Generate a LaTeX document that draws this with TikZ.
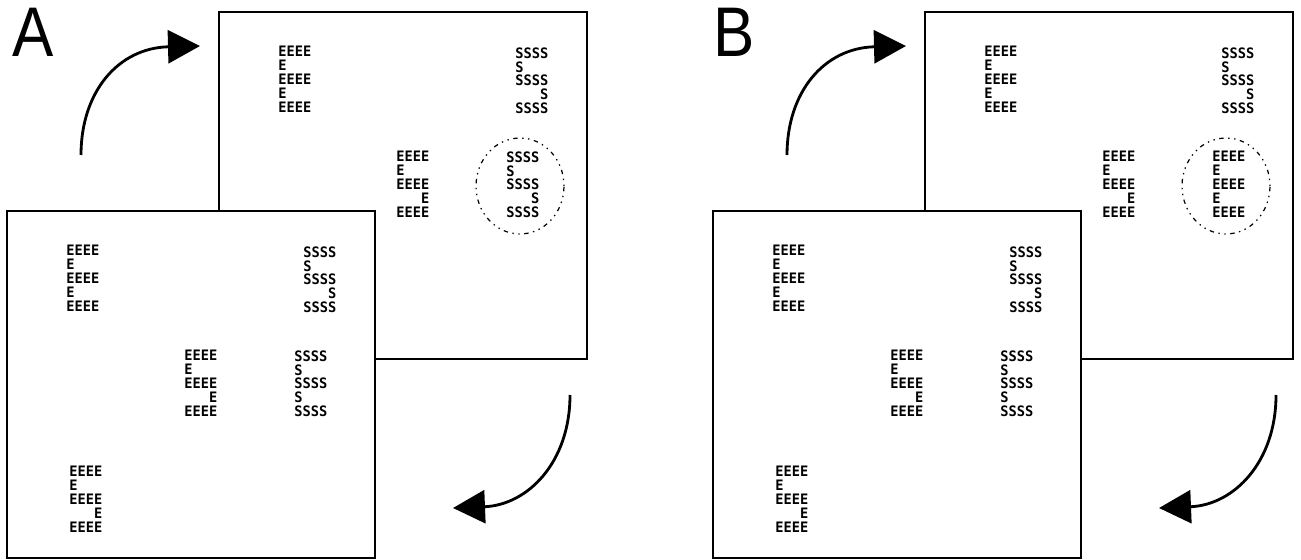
\documentclass[tikz,border=0pt]{standalone}
\usepackage{fontspec}
\usepackage{tikz}
\usetikzlibrary{arrows.meta}

\newfontfamily\pixfont[FakeStretch=0.95]{DejaVu Sans Mono Bold}
\newfontfamily\panelfont[FakeStretch=0.88]{Liberation Sans}
% big letters built from small ones
\newcommand{\compE}[1]{#1#1#1#1\\#1\\#1#1#1#1\\#1\\#1#1#1#1}
\newcommand{\compS}[1]{#1#1#1#1\\#1\\#1#1#1#1\\\phantom{#1#1#1}#1\\#1#1#1#1}

\begin{document}
\begin{tikzpicture}[x=0.02cm,y=-0.02cm,>={Triangle[length=0.64cm,width=0.66cm]},
                    sheet/.style={draw,fill=white,line width=1pt,minimum width=7.36cm,
                                  minimum height=6.94cm,inner sep=0pt,outer sep=0pt,anchor=north west},
                    glyph/.style={font={\pixfont\fontsize{8.2}{7.95}\selectfont},align=left,
                                  inner sep=0pt,anchor=north west},
                    panel label/.style={font={\panelfont\fontsize{40}{40}\selectfont},
                                        inner sep=0pt,anchor=north west},
                    turn/.style={->,line width=1.6pt},
                    focus/.style={line width=0.7pt,dash pattern=on 0.8pt off 2.6pt on 0.8pt off 2.6pt on 2.5pt off 2.6pt}]
  \useasboundingbox (0,0) rectangle (1301,560);

  % panel A
  \node[panel label] (labA) at (12,8) {A};
  \coordinate (upA1) at (81,155);
  \coordinate (upA2) at (200,46);
  \draw[turn] (upA1) .. controls (81,92) and (118,48) .. (upA2);
  \node[sheet] (backA) at (219,12) {};
  \node[glyph] (eeA1) at ([shift={(59,34)}]backA.north west) {\compE{E}};
  \node[glyph] (ssA1) at ([shift={(296,35)}]backA.north west) {\compS{S}};
  \node[glyph] (seA1) at ([shift={(177,139)}]backA.north west) {\compS{E}};
  \node[glyph] (ssA2) at ([shift={(287,139)}]backA.north west) {\compS{S}};
  \coordinate (focA) at ([shift={(301,174)}]backA.north west);
  \draw[focus] (focA) ellipse [x radius=0.88cm,y radius=0.96cm];
  \node[sheet] (frontA) at (7,211) {};
  \node[glyph] (eeA2) at ([shift={(59,34)}]frontA.north west) {\compE{E}};
  \node[glyph] (ssA3) at ([shift={(296,35)}]frontA.north west) {\compS{S}};
  \node[glyph] (seA2) at ([shift={(177,139)}]frontA.north west) {\compS{E}};
  \node[glyph] (esA1) at ([shift={(287,139)}]frontA.north west) {\compE{S}};
  \node[glyph] (seA3) at ([shift={(62,255)}]frontA.north west) {\compS{E}};
  \coordinate (dnA1) at (570,395);
  \coordinate (dnA2) at (453,508);
  \draw[turn] (dnA1) .. controls (570,462) and (528,505) .. (dnA2);

  % panel B
  \node[panel label] (labB) at (713,8) {B};
  \coordinate (upB1) at (787,155);
  \coordinate (upB2) at (906,46);
  \draw[turn] (upB1) .. controls (787,92) and (824,48) .. (upB2);
  \node[sheet] (backB) at (925,12) {};
  \node[glyph] (eeB1) at ([shift={(59,34)}]backB.north west) {\compE{E}};
  \node[glyph] (ssB1) at ([shift={(296,35)}]backB.north west) {\compS{S}};
  \node[glyph] (seB1) at ([shift={(177,139)}]backB.north west) {\compS{E}};
  \node[glyph] (eeB2) at ([shift={(287,139)}]backB.north west) {\compE{E}};
  \coordinate (focB) at ([shift={(301,174)}]backB.north west);
  \draw[focus] (focB) ellipse [x radius=0.88cm,y radius=0.96cm];
  \node[sheet] (frontB) at (713,211) {};
  \node[glyph] (eeB3) at ([shift={(59,34)}]frontB.north west) {\compE{E}};
  \node[glyph] (ssB2) at ([shift={(296,35)}]frontB.north west) {\compS{S}};
  \node[glyph] (seB2) at ([shift={(177,139)}]frontB.north west) {\compS{E}};
  \node[glyph] (esB1) at ([shift={(287,139)}]frontB.north west) {\compE{S}};
  \node[glyph] (seB3) at ([shift={(62,255)}]frontB.north west) {\compS{E}};
  \coordinate (dnB1) at (1276,395);
  \coordinate (dnB2) at (1159,508);
  \draw[turn] (dnB1) .. controls (1276,462) and (1234,505) .. (dnB2);
\end{tikzpicture}
\end{document}
